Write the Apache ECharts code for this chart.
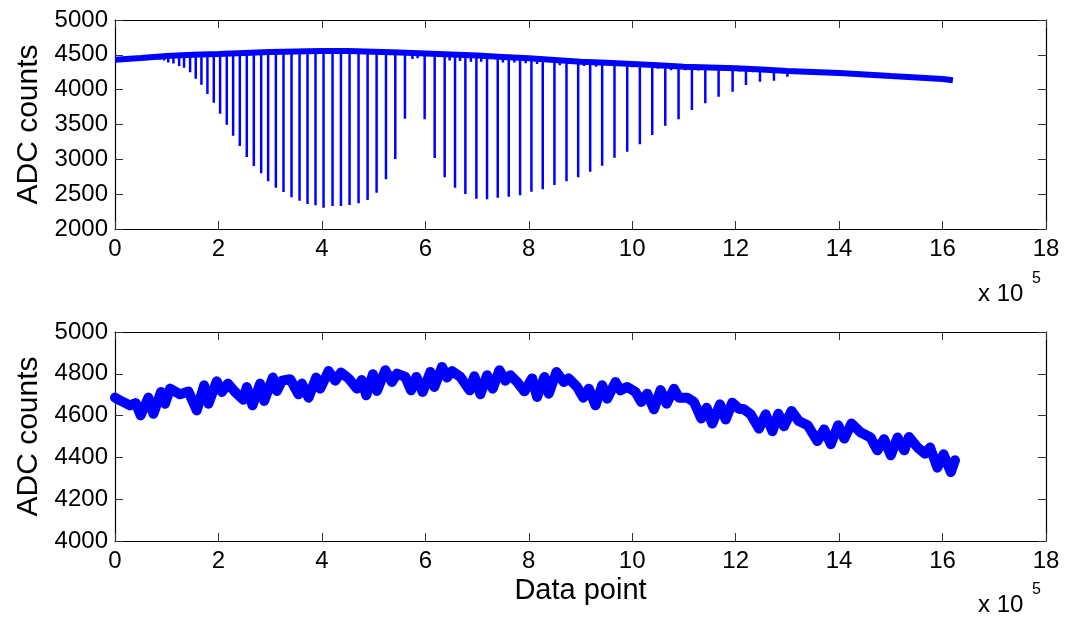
<!DOCTYPE html>
<html>
<head>
<meta charset="utf-8">
<script src="https://cdn.jsdelivr.net/npm/echarts@6/dist/echarts.min.js"></script>
<style>
  html, body { margin: 0; padding: 0; background: #ffffff; }
  #chart { width: 1070px; height: 617px; }
</style>
</head>
<body>
<div id="chart"></div>
<script>
// ---- Data (x in units of 10^5 data points) ----
const xTickLabels = ['0', '2', '4', '6', '8', '10', '12', '14', '16', '18'];
const topYTicks = ['2000', '2500', '3000', '3500', '4000', '4500', '5000'];
const bottomYTicks = ['4000', '4200', '4400', '4600', '4800', '5000'];

// Top panel: slowly drifting baseline [x, ADC counts]
const topBaseline = [
  [0, 4430], [0.5, 4455], [1, 4483], [1.5, 4500], [2, 4512], [2.5, 4528], [3, 4540],
  [3.5, 4548], [4, 4555], [4.5, 4555], [5, 4545], [5.5, 4535], [6, 4520], [6.5, 4505],
  [7, 4490], [7.5, 4470], [8, 4450], [8.5, 4425], [9, 4400], [9.5, 4385], [10, 4368],
  [10.5, 4350], [11, 4330], [11.5, 4318], [12, 4306], [12.5, 4290], [13, 4268],
  [13.5, 4255], [14, 4239], [14.5, 4218], [15, 4196], [15.5, 4175], [16, 4153], [16.2, 4135]
];

// Top panel: dips [x, level at top, minimum reached]
const topDips = [
  [0.87, 4480, 4430], [0.95, 4482, 4420], [1.03, 4485, 4390], [1.13, 4490, 4375],
  [1.24, 4495, 4340], [1.335, 4497, 4316], [1.452, 4500, 4249], [1.561, 4502, 4158],
  [1.671, 4505, 4071], [1.787, 4507, 3938], [1.910, 4510, 3813], [2.032, 4512, 3655],
  [2.161, 4515, 3497], [2.284, 4518, 3339], [2.413, 4520, 3191], [2.548, 4528, 3034],
  [2.684, 4530, 2904], [2.826, 4535, 2800], [2.961, 4538, 2685], [3.110, 4540, 2593],
  [3.258, 4542, 2531], [3.413, 4545, 2455], [3.568, 4548, 2407], [3.722, 4550, 2359],
  [3.877, 4552, 2340], [4.032, 4555, 2306], [4.206, 4555, 2330], [4.368, 4555, 2330],
  [4.535, 4555, 2345], [4.709, 4552, 2369], [4.884, 4548, 2416], [5.058, 4545, 2521],
  [5.239, 4542, 2713], [5.419, 4538, 3005], [5.606, 4533, 3583], [5.75, 4528, 4440],
  [5.85, 4525, 4450], [5.987, 4520, 3575], [6.181, 4515, 3019], [6.374, 4510, 2742],
  [6.47, 4507, 4420], [6.574, 4505, 2593], [6.67, 4500, 4410], [6.774, 4498, 2502],
  [6.88, 4494, 4400], [6.987, 4490, 2435], [7.08, 4487, 4400], [7.193, 4484, 2426],
  [7.400, 4475, 2450], [7.5, 4472, 4390], [7.613, 4468, 2464], [7.72, 4463, 4390],
  [7.832, 4458, 2484], [7.94, 4453, 4380], [8.051, 4448, 2536], [8.16, 4442, 4370],
  [8.270, 4437, 2570], [8.496, 4425, 2632], [8.6, 4420, 4350], [8.729, 4415, 2685],
  [8.955, 4402, 2742], [9.07, 4399, 4340], [9.187, 4396, 2823], [9.3, 4393, 4330],
  [9.419, 4390, 2909], [9.657, 4380, 3024], [9.903, 4370, 3110], [10.0, 4368, 4320],
  [10.148, 4365, 3215], [10.387, 4355, 3349], [10.5, 4350, 4300], [10.639, 4345, 3483],
  [10.75, 4340, 4280], [10.896, 4335, 3575], [11.03, 4330, 4280], [11.154, 4328, 3708],
  [11.28, 4324, 4275], [11.413, 4320, 3804], [11.670, 4316, 3899], [11.8, 4312, 4270],
  [11.941, 4308, 3971], [12.07, 4305, 4260], [12.199, 4303, 4067], [12.33, 4298, 4250],
  [12.470, 4295, 4114], [12.74, 4285, 4129], [13.0, 4268, 4187], [13.29, 4260, 4225]
];

// Bottom panel: oscillating signal [x, ADC counts]
const bottomSignal = [
  [0, 4686], [0.097, 4673], [0.29, 4649], [0.40, 4660], [0.497, 4601], [0.645, 4686],
  [0.742, 4609], [0.890, 4713], [0.968, 4657], [1.064, 4729], [1.258, 4702], [1.42, 4715],
  [1.581, 4625], [1.723, 4745], [1.806, 4657], [1.968, 4764], [2.065, 4713], [2.181, 4753],
  [2.323, 4713], [2.484, 4676], [2.548, 4737], [2.658, 4649], [2.806, 4753], [2.884, 4670],
  [3.052, 4782], [3.129, 4718], [3.226, 4767], [3.387, 4774], [3.548, 4702], [3.613, 4753],
  [3.742, 4686], [3.890, 4782], [3.968, 4729], [4.129, 4813], [4.258, 4767], [4.368, 4806],
  [4.516, 4778], [4.677, 4729], [4.77, 4770], [4.858, 4697], [4.987, 4798], [5.065, 4718],
  [5.226, 4817], [5.355, 4761], [5.452, 4801], [5.613, 4785], [5.723, 4721], [5.826, 4785],
  [5.948, 4713], [6.097, 4809], [6.174, 4737], [6.323, 4833], [6.419, 4782], [6.516, 4813],
  [6.677, 4785], [6.858, 4721], [6.948, 4788], [7.064, 4702], [7.194, 4793], [7.303, 4729],
  [7.432, 4817], [7.548, 4767], [7.645, 4793], [7.774, 4761], [7.916, 4716], [8.065, 4778],
  [8.161, 4689], [8.303, 4785], [8.387, 4705], [8.535, 4809], [8.677, 4761], [8.774, 4778],
  [8.935, 4737], [9.052, 4686], [9.161, 4729], [9.290, 4649], [9.419, 4745], [9.516, 4681],
  [9.677, 4761], [9.774, 4721], [9.903, 4737], [10.064, 4713], [10.174, 4665], [10.29, 4705],
  [10.419, 4630], [10.548, 4722], [10.664, 4657], [10.806, 4728], [10.903, 4686], [11.065, 4686],
  [11.194, 4665], [11.335, 4586], [11.439, 4638], [11.548, 4562], [11.697, 4654], [11.806, 4581],
  [11.935, 4662], [12.064, 4633], [12.16, 4630], [12.29, 4606], [12.45, 4538], [12.58, 4606],
  [12.71, 4525], [12.826, 4609], [12.935, 4549], [13.08, 4622], [13.22, 4574], [13.39, 4554],
  [13.58, 4478], [13.71, 4534], [13.84, 4463], [13.98, 4554], [14.10, 4490], [14.24, 4562],
  [14.42, 4519], [14.61, 4495], [14.74, 4434], [14.87, 4487], [15.0, 4410], [15.13, 4495],
  [15.26, 4434], [15.35, 4498], [15.52, 4447], [15.66, 4418], [15.76, 4447], [15.90, 4351],
  [16.02, 4415], [16.16, 4330], [16.24, 4386]
];

// ---- Build ----
const FONT = "'Liberation Sans', Arial, Helvetica, sans-serif";
const BLUE = '#0000ff';

const dipSegments = [];
topDips.forEach(d => { dipSegments.push([d[0], d[1]]); dipSegments.push([d[0], d[2]]); dipSegments.push(null); });

function xAxisDef(grid, pos, labels, name) {
  return {
    type: 'value', gridIndex: grid, position: pos, min: 0, max: 18, interval: 2,
    axisLine: { show: true, onZero: false, lineStyle: { color: '#000', width: 1.2 } },
    axisTick: { show: true, inside: true, length: 8, lineStyle: { color: '#333', width: 1 } },
    axisLabel: labels ? {
      show: true, color: '#000', fontFamily: FONT, fontSize: 24, margin: 8,
      formatter: v => xTickLabels[Math.round(v / 2)]
    } : { show: false },
    splitLine: { show: false },
    name: name || '', nameLocation: 'middle', nameGap: 35,
    nameTextStyle: { color: '#000', fontFamily: FONT, fontSize: 29 }
  };
}
function yAxisDef(grid, pos, labels, min, max, interval, ticks) {
  return {
    type: 'value', gridIndex: grid, position: pos, min: min, max: max, interval: interval,
    axisLine: { show: true, onZero: false, lineStyle: { color: '#000', width: 1.2 } },
    axisTick: { show: true, inside: true, length: 8, lineStyle: { color: '#333', width: 1 } },
    axisLabel: labels ? {
      show: true, color: '#000', fontFamily: FONT, fontSize: 24, margin: 7,
      formatter: v => ticks[Math.round((v - min) / interval)]
    } : { show: false },
    splitLine: { show: false },
    name: labels ? 'ADC counts' : '', nameLocation: 'middle', nameGap: 70,
    nameTextStyle: { color: '#000', fontFamily: FONT, fontSize: 30 }
  };
}

const chart = echarts.init(document.getElementById('chart'), null, { renderer: 'canvas' });
chart.setOption({
  backgroundColor: '#ffffff',
  animation: false,
  grid: [
    { left: 115, right: 24, top: 20, height: 209 },
    { left: 115, right: 24, top: 332, height: 209 }
  ],
  xAxis: [
    xAxisDef(0, 'bottom', true),
    xAxisDef(0, 'top', false),
    xAxisDef(1, 'bottom', true, 'Data point'),
    xAxisDef(1, 'top', false)
  ],
  yAxis: [
    yAxisDef(0, 'left', true, 2000, 5000, 500, topYTicks),
    yAxisDef(0, 'right', false, 2000, 5000, 500, topYTicks),
    yAxisDef(1, 'left', true, 4000, 5000, 200, bottomYTicks),
    yAxisDef(1, 'right', false, 4000, 5000, 200, bottomYTicks)
  ],
  graphic: [
    { type: 'text', left: 978, top: 282, style: { text: 'x 10', fill: '#000', font: '24px ' + FONT } },
    { type: 'text', left: 1032, top: 271, style: { text: '5', fill: '#000', font: '16px ' + FONT } },
    { type: 'text', left: 978, top: 593, style: { text: 'x 10', fill: '#000', font: '24px ' + FONT } },
    { type: 'text', left: 1032, top: 582, style: { text: '5', fill: '#000', font: '16px ' + FONT } }
  ],
  series: [
    {
      type: 'line', xAxisIndex: 0, yAxisIndex: 0, data: topBaseline, showSymbol: false,
      lineStyle: { color: BLUE, width: 6 }, silent: true
    },
    {
      type: 'line', xAxisIndex: 0, yAxisIndex: 0, data: dipSegments, showSymbol: false,
      connectNulls: false, lineStyle: { color: BLUE, width: 2.5 }, silent: true
    },
    {
      type: 'line', xAxisIndex: 2, yAxisIndex: 2, data: bottomSignal, showSymbol: false,
      lineStyle: { color: BLUE, width: 10, join: 'round', cap: 'round' }, silent: true
    }
  ]
});
</script>
</body>
</html>
